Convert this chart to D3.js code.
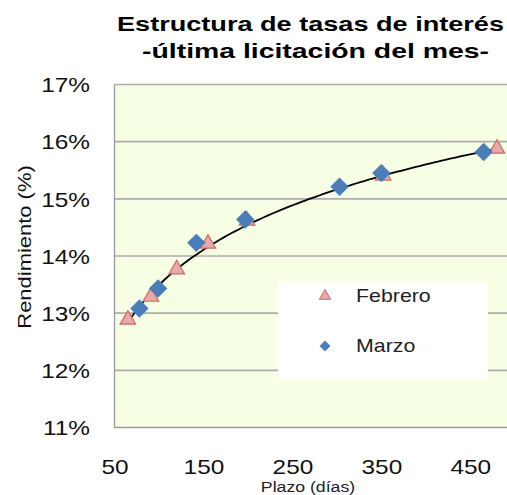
<!DOCTYPE html>
<html>
<head>
<meta charset="utf-8">
<script src="https://cdn.jsdelivr.net/npm/d3@7"></script>
<style>
  body { margin: 0; background: #fff; }
  svg { display: block; font-family: "Liberation Sans", Arial, sans-serif; }
</style>
</head>
<body>
<div id="chart-area"></div>
<script>
// data
var febPlazo = [65, 91, 120, 155, 199, 352, 480];
var febRend  = [12.87, 13.27, 13.75, 14.20, 14.60, 15.39, 15.86];
var marPlazo = [78, 99, 142, 197, 303, 350, 465];
var marRend  = [13.08, 13.43, 14.23, 14.64, 15.21, 15.45, 15.82];
var xTicks = [50, 150, 250, 350, 450];
var yTicks = [11, 12, 13, 14, 15, 16, 17];
var seriesNames = ["Febrero", "Marzo"];

var W = 507, H = 495;
var sx = 1.22; // text looks stretched sideways in the original

var svg = d3.select("#chart-area").append("svg")
    .attr("width", W).attr("height", H);

var x = d3.scaleLinear().domain([50, 500]).range([114.5, 514.8]);
var y = d3.scaleLinear().domain([11, 17]).range([427.5, 84.5]);

// plot area
svg.append("rect")
    .attr("x", x(50)).attr("y", y(17))
    .attr("width", x(500) - x(50)).attr("height", y(11) - y(17))
    .attr("fill", "#f6fee4");

// gridlines
svg.append("g").selectAll("line")
  .data(yTicks.slice(1))
  .enter().append("line")
    .attr("x1", x(50)).attr("x2", x(500))
    .attr("y1", function(d) { return y(d); })
    .attr("y2", function(d) { return y(d); })
    .attr("stroke", "#adadad")
    .attr("stroke-width", 1.6);

// border
svg.append("path")
    .attr("d", "M" + x(50) + "," + y(17) + "V" + y(11) + "H" + x(500))
    .attr("fill", "none")
    .attr("stroke", "#9a9a9a")
    .attr("stroke-width", 1.3);

// axes (labels only)
var yAxis = svg.append("g")
    .attr("transform", "translate(" + x(50) + ",0)")
    .call(d3.axisLeft(y).tickValues(yTicks).tickSize(0).tickFormat(function(d) { return d + "%"; }));
yAxis.select(".domain").remove();
yAxis.selectAll("text")
    .attr("x", (90 - x(50)) / sx)
    .attr("dy", "0.36em")
    .attr("transform", "scale(" + sx + ",1)")
    .style("font-size", "20px")
    .style("fill", "#111")
    .style("font-family", "Liberation Sans, Arial, sans-serif");

var xAxis = svg.append("g")
    .attr("transform", "translate(0," + y(11) + ")")
    .call(d3.axisBottom(x).tickValues(xTicks).tickSize(0));
xAxis.select(".domain").remove();
xAxis.selectAll("text")
    .attr("y", 46.5)
    .attr("dy", "0")
    .attr("transform", "scale(" + sx + ",1)")
    .style("font-size", "20px")
    .style("fill", "#111")
    .style("font-family", "Liberation Sans, Arial, sans-serif");

// titles
function stretched(tx, ty, rot) {
  return "translate(" + tx + "," + ty + ")" + (rot ? " rotate(" + rot + ")" : "") + " scale(" + sx + ",1)";
}
svg.append("text")
    .attr("x", 310.5).attr("y", 31)
    .attr("text-anchor", "middle")
    .attr("textLength", 387).attr("lengthAdjust", "spacingAndGlyphs")
    .style("font-size", "21px").style("font-weight", "bold")
    .text("Estructura de tasas de interés");
svg.append("text")
    .attr("x", 315.5).attr("y", 58)
    .attr("text-anchor", "middle")
    .attr("textLength", 347).attr("lengthAdjust", "spacingAndGlyphs")
    .style("font-size", "21px").style("font-weight", "bold")
    .text("-última licitación del mes-");
svg.append("text")
    .attr("transform", stretched(308, 491.7))
    .attr("text-anchor", "middle")
    .style("font-size", "14.5px").style("fill", "#222")
    .text("Plazo (días)");
svg.append("text")
    .attr("transform", stretched(31, 247, -90))
    .attr("text-anchor", "middle")
    .style("font-size", "18px").style("fill", "#111")
    .text("Rendimiento (%)");

// logarithmic trendline fitted on Febrero
var lx = febPlazo.map(Math.log);
var mx = d3.mean(lx), my = d3.mean(febRend);
var b = d3.sum(lx, function(v, i) { return (v - mx) * (febRend[i] - my); }) /
        d3.sum(lx, function(v) { return (v - mx) * (v - mx); });
var a = my - b * mx;
var xs = d3.range(0, 101).map(function(i) {
  return febPlazo[0] + (febPlazo[febPlazo.length - 1] - febPlazo[0]) * i / 100;
});
svg.append("path")
    .datum(xs)
    .attr("fill", "none")
    .attr("stroke", "#000")
    .attr("stroke-width", 1.8)
    .attr("d", d3.line()
        .x(function(d) { return x(d); })
        .y(function(d) { return y(a + b * Math.log(d)); }));

// markers
var tri = d3.symbol().type(d3.symbolTriangle).size(105);
var dia = d3.symbol().type(d3.symbolSquare).size(170);

svg.append("g").selectAll("path")
  .data(febPlazo)
  .enter().append("path")
    .attr("d", tri)
    .attr("transform", function(d, i) { return "translate(" + x(d) + "," + (y(febRend[i]) - 1) + ")"; })
    .attr("fill", "#e9a9a8")
    .attr("stroke", "#d06665")
    .attr("stroke-width", 1.2);

svg.append("g").selectAll("path")
  .data(marPlazo)
  .enter().append("path")
    .attr("d", dia)
    .attr("transform", function(d, i) { return "translate(" + x(d) + "," + y(marRend[i]) + ") rotate(45)"; })
    .attr("fill", "#4a7ebb");

// legend
var lg = svg.append("g");
lg.append("rect")
    .attr("x", 278).attr("y", 281).attr("width", 210).attr("height", 99)
    .attr("fill", "#fff");
lg.append("path")
    .attr("d", d3.symbol().type(d3.symbolTriangle).size(55))
    .attr("transform", "translate(325,296)")
    .attr("fill", "#e9a9a8").attr("stroke", "#d06665").attr("stroke-width", 1);
lg.append("path")
    .attr("d", d3.symbol().type(d3.symbolSquare).size(60))
    .attr("transform", "translate(325,346) rotate(45)")
    .attr("fill", "#4a7ebb");
lg.selectAll("text.lab")
  .data(seriesNames)
  .enter().append("text")
    .attr("class", "lab")
    .attr("transform", function(d, i) { return stretched(356, 302 + i * 50); })
    .style("font-size", "17.5px").style("fill", "#222")
    .text(function(d) { return d; });
</script>
</body>
</html>
